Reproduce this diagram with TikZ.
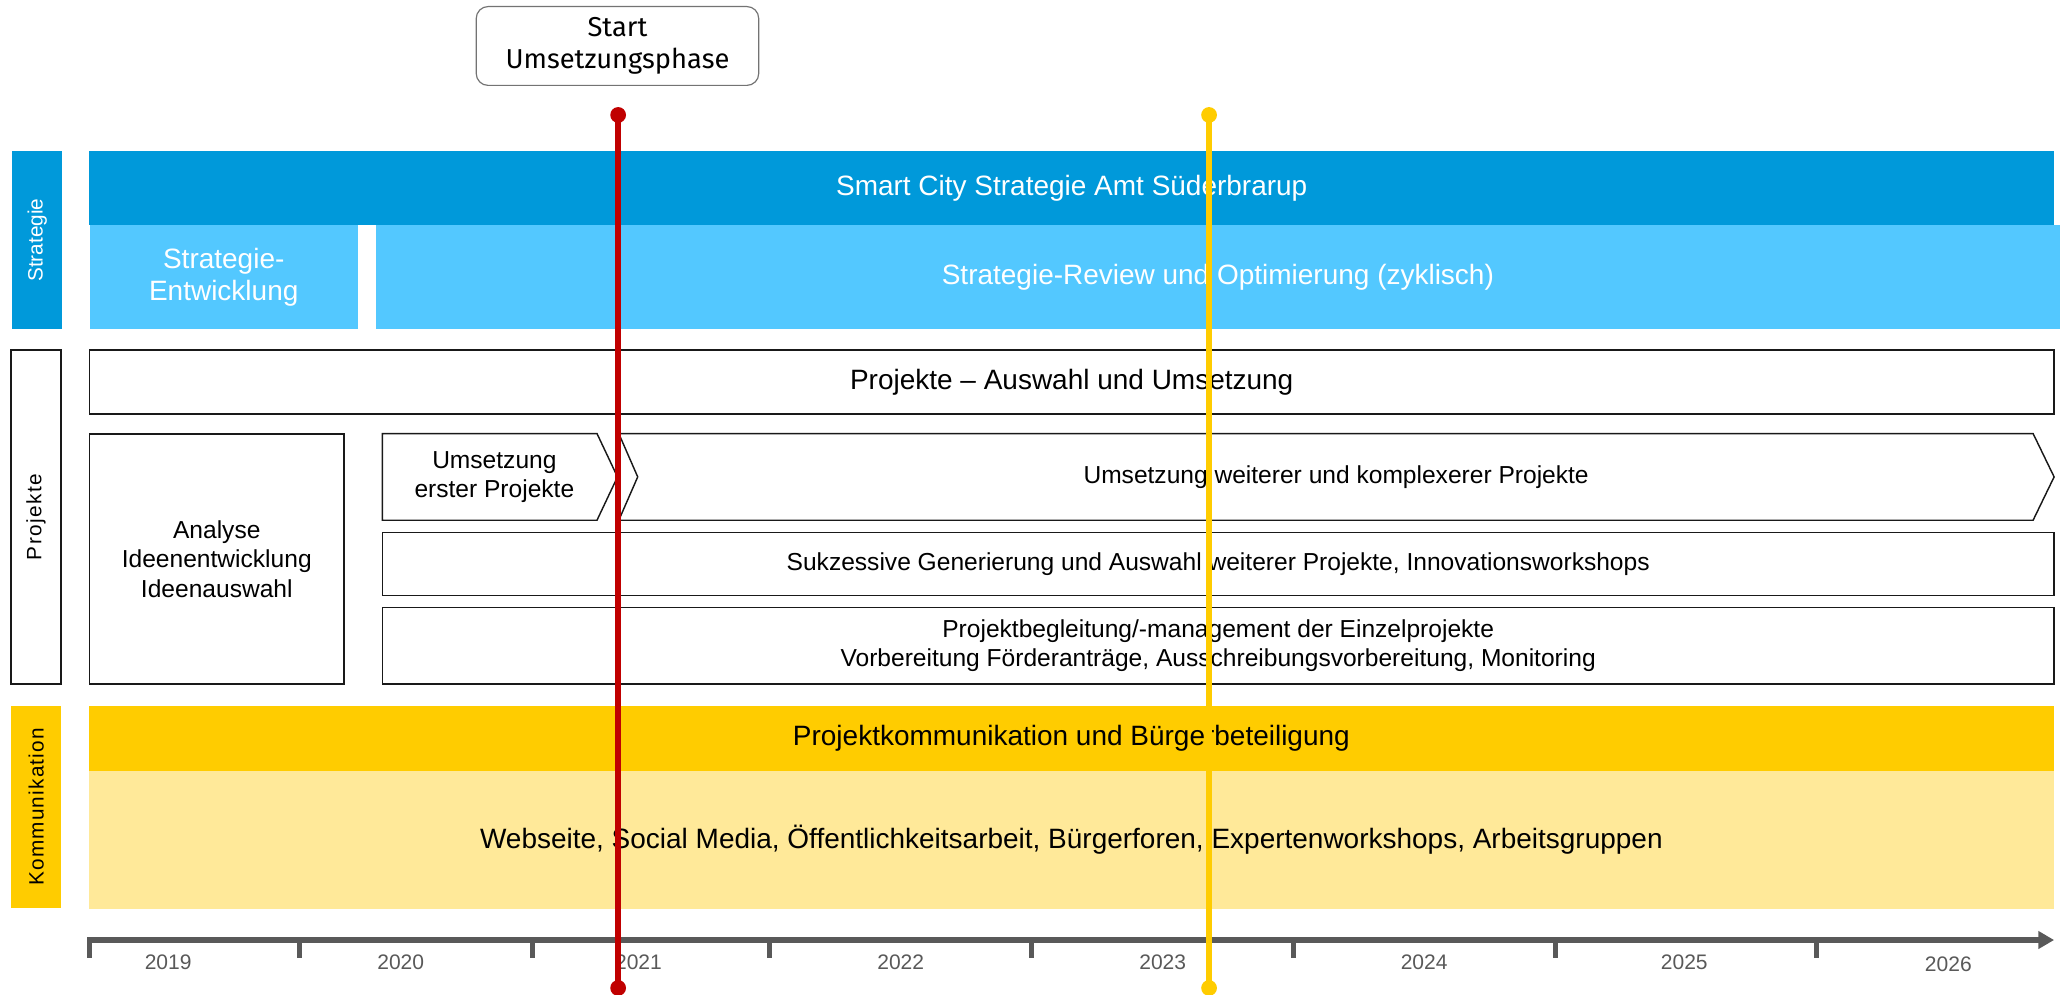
\documentclass[tikz,border=0pt]{standalone}
\usepackage{fontspec}
\setmainfont{Liberation Sans}
\newfontfamily\startfont{Fira Sans}
\usetikzlibrary{arrows.meta}
\definecolor{sblue}{RGB}{0,153,218}
\definecolor{lblue}{RGB}{83,200,255}
\definecolor{kyel}{RGB}{255,204,0}
\definecolor{lyel}{RGB}{255,233,153}
\definecolor{rline}{RGB}{192,0,0}
\definecolor{yline}{RGB}{255,204,0}
\definecolor{axgray}{RGB}{89,89,89}
\newcommand{\myBig}{\fontsize{21.3}{24.5}\selectfont}
\newcommand{\myMid}{\fontsize{18.7}{22.5}\selectfont}
\newcommand{\mySide}{\fontsize{15.8}{18}\selectfont}
\newcommand{\myYear}{\fontsize{16}{19}\selectfont}
\begin{document}
\begin{tikzpicture}[x=1pt,y=-1pt,
  bar/.style={anchor=north west, inner sep=0pt, outer sep=0pt},
  wbox/.style={bar, draw=black!90, line width=1.1pt, fill=white},
  wline/.style={draw=black!90, line width=1.1pt, fill=white},
  txt/.style={inner sep=0pt, align=center},
  sidetxt/.style={inner sep=0pt, rotate=90, font=\mySide},
  year/.style={inner sep=0pt, text=axgray, font=\myYear},
  marker/.style={line width=5pt}]
\useasboundingbox (0,0) rectangle (1568,757);

% start box
\node[draw=black!55, line width=0.9pt, rounded corners=9pt, minimum width=215pt, minimum height=60pt, inner sep=0pt, align=center, font=\startfont\fontsize{20.8}{24}\selectfont] (start) at (470,35) {Start\\Umsetzungsphase};

% Strategie
\node[bar, fill=sblue, minimum width=38pt, minimum height=135.5pt] (lblS) at (9.3,115) {};
\node[sidetxt, text=white] (lblStxt) at (lblS.center) {Strategie};
\node[bar, fill=sblue, minimum width=1495.5pt, minimum height=56pt] (smart) at (68,115) {};
\node[txt, text=white, font=\myBig] (smarttxt) at (smart.center) {Smart City Strategie Amt Süderbrarup};
\node[bar, fill=lblue, minimum width=204pt, minimum height=79.5pt] (entw) at (68.3,171) {};
\node[txt, text=white, font=\myBig] (entwtxt) at (entw.center) {Strategie-\\Entwicklung};
\node[bar, fill=lblue, minimum width=1282pt, minimum height=79.5pt] (review) at (286,171) {};
\node[txt, text=white, font=\myBig] (reviewtxt) at (review.center) {Strategie-Review und Optimierung (zyklisch)};

% Projekte
\node[wbox, minimum width=38pt, minimum height=254pt] (lblP) at (8.5,266.5) {};
\node[sidetxt, text=black] (lblPtxt) at (lblP.center) {\addfontfeature{LetterSpace=7}Projekte};
\node[wbox, minimum width=1495.5pt, minimum height=48.5pt] (proj) at (68,266.5) {};
\node[txt, font=\myBig] (projtxt) at (proj.center) {Projekte -- Auswahl und Umsetzung};
\node[wbox, minimum width=194pt, minimum height=190.5pt] (ana) at (68,330.2) {};
\node[txt, font=\myMid] (anatxt) at (ana.center) {Analyse\\Ideenentwicklung\\Ideenauswahl};
\draw[wline] (291,330) -- (454.4,330) -- (470,363) -- (454.4,396) -- (291,396) -- cycle;
\node[txt, font=\myMid] (ch1) at (376.3,363) {Umsetzung\\erster Projekte};
\draw[wline] (471,330) -- (1547.5,330) -- (1563.5,363) -- (1547.5,396) -- (471,396) -- (485.4,363) -- cycle;
\node[txt, font=\myMid] (ch2) at (1017,363) {Umsetzung weiterer und komplexerer Projekte};
\node[wbox, minimum width=1272.5pt, minimum height=48pt] (sukz) at (291,405.4) {};
\node[txt, font=\myMid] (sukztxt) at (sukz.center) {Sukzessive Generierung und Auswahl weiterer Projekte, Innovationsworkshops};
\node[wbox, minimum width=1272.5pt, minimum height=58.5pt] (pbeg) at (291,462.2) {};
\node[txt, font=\myMid] (pbegtxt) at (pbeg.center) {Projektbegleitung/-management der Einzelprojekte\\Vorbereitung Förderanträge, Ausschreibungsvorbereitung, Monitoring};

% Kommunikation
\node[bar, fill=kyel, minimum width=38pt, minimum height=153.5pt] (lblK) at (8.5,537.4) {};
\node[sidetxt, text=black] (lblKtxt) at (lblK.center) {\addfontfeature{LetterSpace=6}Kommunikation};
\node[bar, fill=kyel, minimum width=1496pt, minimum height=49.3pt] (komm) at (67.5,537.4) {};
\node[txt, font=\myBig] (kommtxt) at (komm.center) {Projektkommunikation und Bürgerbeteiligung};
\node[bar, fill=lyel, minimum width=1496pt, minimum height=105.3pt] (web) at (67.5,586.6) {};
\node[txt, font=\myBig] (webtxt) at (web.center) {Webseite, Social Media, Öffentlichkeitsarbeit, Bürgerforen, Expertenworkshops, Arbeitsgruppen};

% axis
\coordinate (ax0) at (66.5,715.5);
\coordinate (ax1) at (1563.5,715.5);
\draw[axgray, line width=4.3pt, -{Triangle[length=12pt,width=13pt]}] (ax0) -- (ax1);
\foreach \tx in {68.5,228,405.6,586,785,984.5,1183.6,1382.6}
  \draw[axgray, line width=3.8pt] (\tx,714) -- (\tx,729.5);
\foreach \yx/\yr in {128/2019,305/2020,486/2021,685.6/2022,885/2023,1084/2024,1282/2025}
  \node[year] (y\yr) at (\yx,732.7) {\yr};
\node[year] (y2026) at (1483,733.7) {2026};

% milestone lines
\coordinate (rtop) at (470.5,87.5);
\coordinate (rbot) at (470.5,752);
\draw[marker, rline] (rtop) -- (rbot);
\fill[rline] (rtop) circle (6);
\fill[rline] (rbot) circle (6);
\coordinate (ytop) at (920.3,87.5);
\coordinate (ybot) at (920.3,752);
\draw[marker, yline] (ytop) -- (ybot);
\fill[yline] (ytop) circle (6);
\fill[yline] (ybot) circle (6);
\end{tikzpicture}
\end{document}
